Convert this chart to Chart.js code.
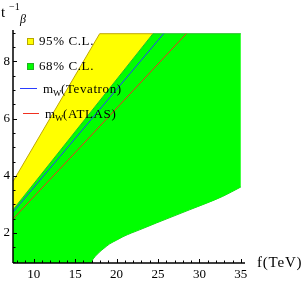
<!DOCTYPE html>
<html>
<head>
<meta charset="utf-8">
<script src="https://cdn.jsdelivr.net/npm/chart.js@4/dist/chart.umd.min.js"></script>
<style>
  html, body { margin: 0; padding: 0; background: #fff; }
  #wrap { width: 305px; height: 283px; position: relative; }
</style>
</head>
<body>
<div id="wrap"><canvas id="grafico"></canvas></div>
<script>
// axis ranges
const xRange = [7.5, 35.5]
const yRange = [0.95, 9.1]
const xTickLabels = [10, 15, 20, 25, 30, 35]
const yTickLabels = [2, 4, 6, 8]

// region boundaries (f in TeV, t^-1_beta)
const greenUpperF = [7.5, 24.39, 35]
const greenUpperT = [2.81, 8.97, 8.97]
const greenLowerF = [7.5, 16.95, 17.05, 17.25, 17.55, 17.96, 18.5, 19.17, 20.0, 20.77, 21.8, 22.77, 24.8, 28.8, 32.8, 35]
const greenLowerT = [0.95, 0.95, 1.03, 1.12, 1.22, 1.34, 1.47, 1.62, 1.75, 1.87, 2.0, 2.11, 2.35, 2.81, 3.28, 3.61]
const yellowUpperF = [7.5, 17.96, 24.39]
const yellowUpperT = [3.8, 8.97, 8.97]

// m_W lines
const tevatronF = [7.5, 25.68]
const tevatronT = [2.73, 8.97]
const atlasF = [7.5, 28.42]
const atlasT = [2.49, 8.97]

const SERIF = "'Liberation Serif', 'DejaVu Serif', serif"

function pts(fs, ts){
    return fs.map((f, i) => ({ x: f, y: ts[i] }))
}

const eixos = {
    id: "eixos",
    afterDraw(chart){
        const ctx = chart.ctx
        const sx = chart.scales.x
        const sy = chart.scales.y
        const a = chart.chartArea
        ctx.save()
        ctx.strokeStyle = "#000"
        ctx.lineWidth = 1.5
        ctx.beginPath()
        ctx.moveTo(a.left, a.bottom)
        ctx.lineTo(a.right, a.bottom)
        ctx.moveTo(a.left, a.bottom)
        ctx.lineTo(a.left, a.top)
        ctx.stroke()

        ctx.lineWidth = 1
        ctx.beginPath()
        for(let v = 8; v <= 35; v++){
            const px = Math.round(sx.getPixelForValue(v)) + 0.5
            const len = xTickLabels.includes(v) ? 4 : 2.5
            ctx.moveTo(px, a.bottom)
            ctx.lineTo(px, a.bottom - len)
        }
        for(let v = 1; v <= 9; v += 0.5){
            const py = Math.round(sy.getPixelForValue(v)) + 0.5
            const len = yTickLabels.includes(v) ? 4 : 2.5
            ctx.moveTo(a.left, py)
            ctx.lineTo(a.left + len, py)
        }
        ctx.stroke()

        // axis titles
        ctx.fillStyle = "#000"
        ctx.textBaseline = "alphabetic"
        ctx.textAlign = "left"
        ctx.font = `15px ${SERIF}`
        ctx.fillText("t", 1, 17)
        ctx.font = `10px ${SERIF}`
        ctx.fillText("\u22121", 9, 10)
        ctx.font = `italic 12px ${SERIF}`
        ctx.fillText("\u03b2", 20, 23)
        ctx.font = `15px ${SERIF}`
        ctx.letterSpacing = "0.8px"
        ctx.fillText("f(TeV)", 257, 267)

        // legend
        ctx.letterSpacing = "0px"
        ctx.lineWidth = 1
        ctx.fillStyle = "#ffff00"
        ctx.strokeStyle = "#b8a800"
        ctx.fillRect(27, 38, 7, 7)
        ctx.strokeRect(27.5, 38.5, 6, 6)
        ctx.fillStyle = "#00ff00"
        ctx.strokeStyle = "#20b020"
        ctx.fillRect(27, 63, 7, 7)
        ctx.strokeRect(27.5, 63.5, 6, 6)

        ctx.strokeStyle = "#2a3cff"
        ctx.beginPath()
        ctx.moveTo(20, 88.5)
        ctx.lineTo(37, 88.5)
        ctx.stroke()
        ctx.strokeStyle = "#f03020"
        ctx.beginPath()
        ctx.moveTo(23, 113.5)
        ctx.lineTo(39, 113.5)
        ctx.stroke()

        ctx.fillStyle = "#000"
        ctx.font = `13px ${SERIF}`
        ctx.letterSpacing = "0.6px"
        ctx.fillText("95% C.L.", 39, 45)
        ctx.fillText("68% C.L.", 39, 70)
        ctx.fillText("m", 43, 93)
        ctx.fillText("(Tevatron)", 61, 93)
        ctx.fillText("m", 45, 118)
        ctx.fillText("(ATLAS)", 63, 118)
        ctx.letterSpacing = "0px"
        ctx.font = `9px ${SERIF}`
        ctx.fillText("W", 53, 96)
        ctx.fillText("W", 55, 121)
        ctx.restore()
    }
}

new Chart(document.getElementById("grafico"), {
    type: "scatter",
    data: {
        datasets: [
            {
                data: pts(tevatronF, tevatronT),
                showLine: true, borderColor: "#2a3cff", borderWidth: 1,
                pointRadius: 0, fill: false
            },
            {
                data: pts(atlasF, atlasT),
                showLine: true, borderColor: "#f03020", borderWidth: 1,
                pointRadius: 0, fill: false
            },
            {
                data: pts(greenUpperF, greenUpperT),
                showLine: true, borderColor: "#22c022", borderWidth: 1,
                backgroundColor: "#00ff00", pointRadius: 0, fill: 3
            },
            {
                data: pts(greenLowerF, greenLowerT),
                showLine: true, borderColor: "#22c022", borderWidth: 1,
                pointRadius: 0, fill: false, cubicInterpolationMode: "monotone"
            },
            {
                data: pts(yellowUpperF, yellowUpperT),
                showLine: true, borderColor: "#c0a800", borderWidth: 1,
                backgroundColor: "#ffff00", pointRadius: 0, fill: 2
            }
        ]
    },
    options: {
        responsive: true,
        maintainAspectRatio: false,
        animation: false,
        layout: { padding: { left: 0, top: 30, right: 60, bottom: 0 } },
        plugins: { legend: { display: false }, tooltip: { enabled: false } },
        scales: {
            x: {
                type: "linear", min: xRange[0], max: xRange[1], bounds: "data",
                afterBuildTicks: s => { s.ticks = xTickLabels.map(v => ({ value: v })) },
                afterFit: s => { s.height = 20 },
                grid: { display: false, drawTicks: false },
                border: { display: false },
                ticks: { padding: 4, color: "#000", font: { family: SERIF, size: 13 }, maxRotation: 0 }
            },
            y: {
                type: "linear", min: yRange[0], max: yRange[1], bounds: "data",
                afterBuildTicks: s => { s.ticks = yTickLabels.map(v => ({ value: v })) },
                afterFit: s => { s.width = 13 },
                grid: { display: false, drawTicks: false },
                border: { display: false },
                ticks: { padding: 3, color: "#000", font: { family: SERIF, size: 13 } }
            }
        }
    },
    plugins: [eixos]
})
</script>
</body>
</html>
